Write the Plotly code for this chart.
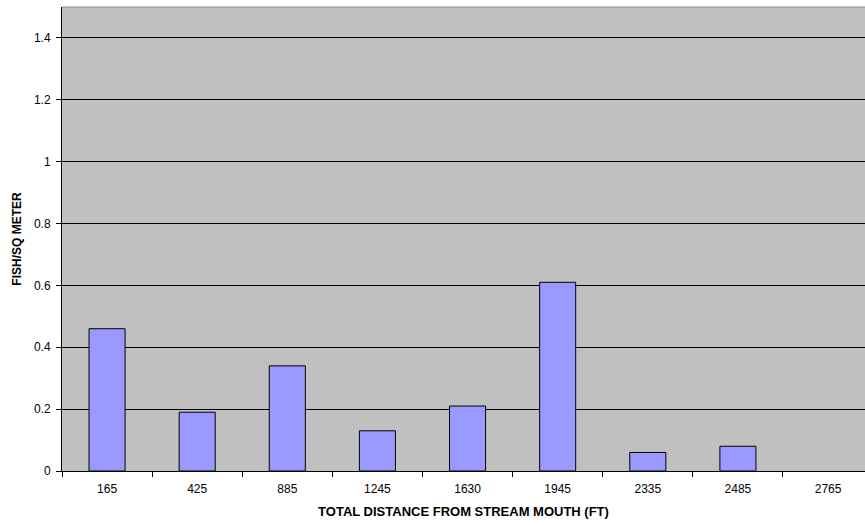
import plotly.graph_objects as go

# Fish density by sampling station along the stream (no sample at 2765 ft)
distances = ["165", "425", "885", "1245", "1630", "1945", "2335", "2485", "2765"]
fish_per_sq_m = [0.46, 0.19, 0.34, 0.13, 0.21, 0.61, 0.06, 0.08, None]

fig = go.Figure(
    go.Bar(
        x=distances,
        y=fish_per_sq_m,
        marker=dict(color="#9999FF", line=dict(color="#000000", width=1)),
        hoverinfo="x+y",
    )
)

font_family = "Liberation Sans, Arial, sans-serif"

fig.update_layout(
    width=865,
    height=525,
    margin=dict(l=62, r=0, t=7, b=54),
    paper_bgcolor="#FFFFFF",
    plot_bgcolor="#C0C0C0",
    bargap=0.6,
    showlegend=False,
    font=dict(family=font_family, size=12, color="#000000"),
    xaxis=dict(
        type="category",
        range=[-0.5, 8.41],
        tickson="boundaries",
        ticks="outside",
        ticklen=5,
        tickcolor="#000000",
        showline=True,
        linecolor="#000000",
        linewidth=1,
        showgrid=False,
        tickfont=dict(size=12),
        ticklabelstandoff=7,
        title=dict(
            text="<b>TOTAL DISTANCE FROM STREAM MOUTH (FT)</b>",
            font=dict(size=13),
            standoff=11,
        ),
    ),
    yaxis=dict(
        range=[0, 1.5],
        dtick=0.2,
        tick0=0,
        ticks="outside",
        ticklen=5,
        tickcolor="#000000",
        showline=True,
        linecolor="#000000",
        linewidth=1,
        showgrid=True,
        gridcolor="#000000",
        gridwidth=1,
        zeroline=False,
        tickfont=dict(size=12),
        ticklabelstandoff=3,
        title=dict(
            text="<b>FISH/SQ METER</b>",
            font=dict(size=12),
            standoff=9,
        ),
    ),
    shapes=[
        dict(
            type="line", xref="paper", yref="paper",
            x0=0, x1=1, y0=1, y1=1,
            line=dict(color="#8C8C8C", width=1),
        )
    ],
)

fig.write_html("out.html")
